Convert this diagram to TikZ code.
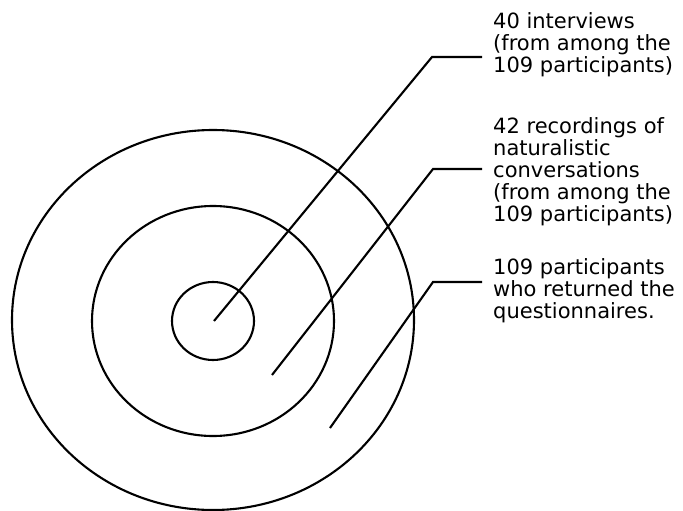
\documentclass[tikz,border=0pt]{standalone}
\usepackage{fontspec}
\setmainfont{DejaVu Sans}
\usetikzlibrary{shapes.geometric}
\begin{document}
\begin{tikzpicture}[x=1pt,y=-1pt,
  ring/.style={draw, ellipse, line width=2.1pt, inner sep=0pt},
  lead/.style={draw, line width=2.1pt, line join=miter},
  lbl/.style={anchor=base west, align=left, inner sep=0pt, font=\fontsize{21}{22}\selectfont}]
\useasboundingbox (0,0) rectangle (683,511);
\node[ring, minimum width=402pt, minimum height=380pt] (outer) at (213,320) {};
\node[ring, minimum width=242pt, minimum height=230pt] (middle) at (213,321) {};
\node[ring, minimum width=82pt, minimum height=78pt] (inner) at (213,321) {};
\coordinate (s1) at (214,321);
\coordinate (s2) at (272,375);
\coordinate (s3) at (330,428);
\coordinate (e1) at (432,57);
\coordinate (e2) at (433,169);
\coordinate (e3) at (433,282);
\coordinate (h1) at (482,57);
\coordinate (h2) at (482,169);
\coordinate (h3) at (482,282);
\node[lbl] (t1) at (493,73) {40 interviews\\(from among the\\109 participants)};
\node[lbl] (t2) at (493,221) {42 recordings of\\naturalistic\\conversations\\(from among the\\109 participants)};
\node[lbl] (t3) at (493,318) {109 participants\\who returned the\\questionnaires.};
\draw[lead] (s1) -- (e1) -- (h1);
\draw[lead] (s2) -- (e2) -- (h2);
\draw[lead] (s3) -- (e3) -- (h3);
\end{tikzpicture}
\end{document}
